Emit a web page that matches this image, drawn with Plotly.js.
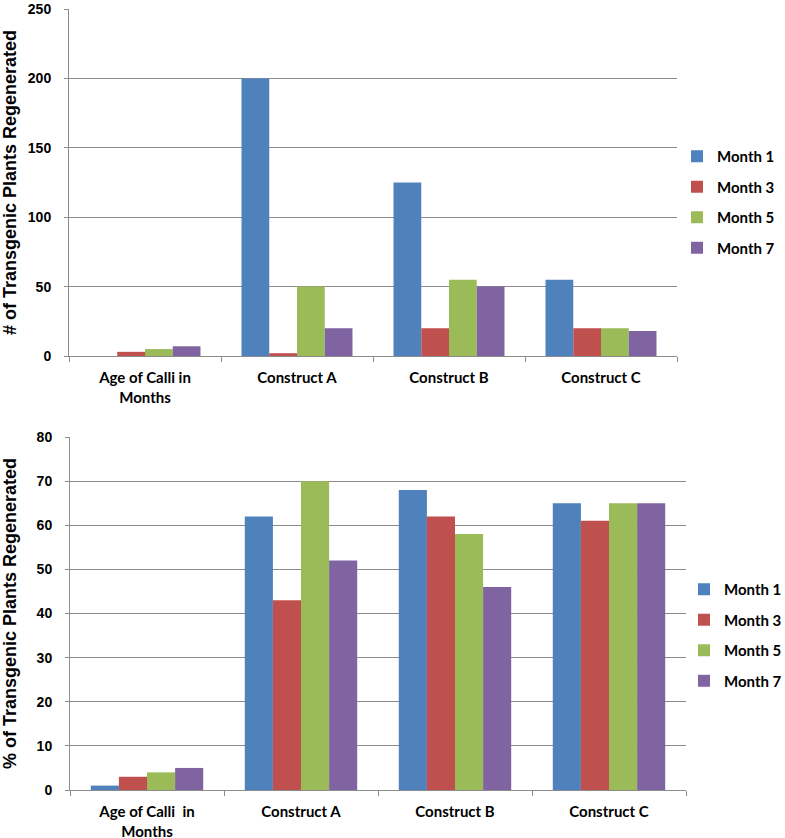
<!DOCTYPE html>
<html>
<head>
<meta charset="utf-8">
<script src="https://cdn.plot.ly/plotly-3.0.1.min.js"></script>
<style>html,body{margin:0;padding:0;background:#fff;}#chart{width:785px;height:838px;}</style>
</head>
<body>
<div id="chart"></div>
<script>
// ---- data ----
const categoriesTop = ["Age of Calli in<br>Months", "Construct A", "Construct B", "Construct C"];
const categoriesBottom = ["Age of Calli  in<br>Months", "Construct A", "Construct B", "Construct C"];
const seriesNames = ["Month 1", "Month 3", "Month 5", "Month 7"];
const seriesColors = ["#4F81BD", "#C0504D", "#9BBB59", "#8064A2"];

// # of transgenic plants regenerated
const countMonth1 = [0, 200, 125, 55];
const countMonth3 = [3, 2, 20, 20];
const countMonth5 = [5, 50, 55, 20];
const countMonth7 = [7, 20, 50, 18];

// % of transgenic plants regenerated
const pctMonth1 = [1, 62, 68, 65];
const pctMonth3 = [3, 43, 62, 61];
const pctMonth5 = [4, 70, 58, 65];
const pctMonth7 = [5, 52, 46, 65];

const topTitle = "# of Transgenic Plants Regenerated";
const bottomTitle = "% of Transgenic Plants Regenerated";

// ---- traces ----
const topSeries = [countMonth1, countMonth3, countMonth5, countMonth7];
const bottomSeries = [pctMonth1, pctMonth3, pctMonth5, pctMonth7];
const traces = [];
topSeries.forEach((vals, i) => {
  traces.push({
    type: "bar", x: categoriesTop, y: vals, name: seriesNames[i],
    marker: {color: seriesColors[i]}, xaxis: "x", yaxis: "y",
    legend: "legend", legendgroup: "t" + i, hoverinfo: "y+name"
  });
});
bottomSeries.forEach((vals, i) => {
  traces.push({
    type: "bar", x: categoriesBottom, y: vals, name: seriesNames[i],
    marker: {color: seriesColors[i]}, xaxis: "x2", yaxis: "y2",
    legend: "legend2", legendgroup: "b" + i, hoverinfo: "y+name"
  });
});

const W = 785, H = 838;
const px = v => v / W;
const py = v => 1 - v / H;

const gridCol = "#8c8c8c";
const tickFontY = {family: "Liberation Sans, Arial, sans-serif", size: 14, color: "#000", weight: "bold"};
const tickFontX = {family: "Lato, Carlito, sans-serif", size: 15, color: "#000", weight: "bold"};
const titleFont = {family: "Liberation Sans, Arial, sans-serif", size: 18, color: "#000", weight: "bold"};
const legendFont = {family: "Lato, Carlito, sans-serif", size: 15, color: "#000", weight: "bold"};

function xAxis(domain, anchor) {
  return {
    domain: domain, anchor: anchor, type: "category",
    showline: true, linecolor: gridCol, linewidth: 1,
    ticks: "outside", tickson: "boundaries", ticklen: 5, tickcolor: gridCol,
    tickfont: tickFontX, showgrid: false, zeroline: false, automargin: false,
    ticklabelstandoff: 8
  };
}
function yAxis(domain, anchor, range, dtick, title) {
  return {
    domain: domain, anchor: anchor, range: range, dtick: dtick,
    showline: true, linecolor: gridCol, linewidth: 1,
    showgrid: true, gridcolor: gridCol, gridwidth: 1, zeroline: false,
    ticks: "outside", ticklen: 4, tickcolor: gridCol,
    tickfont: tickFontY, automargin: false, ticklabelstandoff: 10,
    ticklabeloverflow: "allow",
    title: {text: title, font: titleFont, standoff: 16}
  };
}

const layout = {
  width: W, height: H,
  margin: {l: 0, r: 0, t: 0, b: 0, autoexpand: false},
  paper_bgcolor: "#fff", plot_bgcolor: "#fff",
  barmode: "group", bargap: 0.27, bargroupgap: 0,
  xaxis: xAxis([px(69), px(677)], "y"),
  yaxis: yAxis([py(356), py(9)], "x", [0, 250], 50, topTitle),
  xaxis2: xAxis([px(70), px(686)], "y2"),
  yaxis2: yAxis([py(790), py(437)], "x2", [0, 80], 10, bottomTitle),
  legend: {
    x: px(677), y: py(202), xanchor: "left", yanchor: "middle",
    font: legendFont, traceorder: "grouped", tracegroupgap: 8,
    bgcolor: "rgba(0,0,0,0)", itemwidth: 30
  },
  legend2: {
    x: px(684), y: py(635), xanchor: "left", yanchor: "middle",
    font: legendFont, traceorder: "grouped", tracegroupgap: 8,
    bgcolor: "rgba(0,0,0,0)", itemwidth: 30
  },
  showlegend: true
};

Plotly.newPlot("chart", traces, layout, {displayModeBar: false, staticPlot: true});
</script>
</body>
</html>
